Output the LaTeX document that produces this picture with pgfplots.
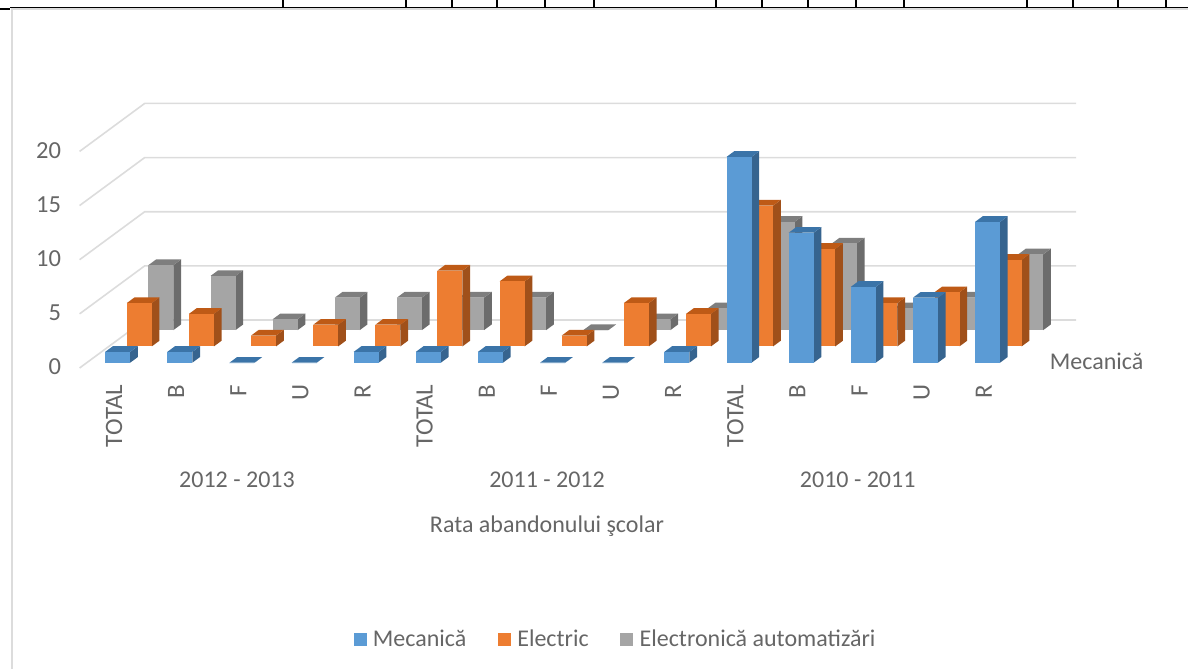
\documentclass[border=0pt]{standalone}
\usepackage{fontspec}
\setmainfont{Carlito}
\usepackage{pgfplots}
\usepackage{pgfplotstable}
\pgfplotsset{compat=1.18}
\definecolor{blueF}{HTML}{5B9BD5}\definecolor{blueS}{HTML}{36648F}\definecolor{blueT}{HTML}{3B74A8}
\definecolor{oranF}{HTML}{ED7D31}\definecolor{oranS}{HTML}{A0501A}\definecolor{oranT}{HTML}{BE5A16}
\definecolor{grayF}{HTML}{A5A5A5}\definecolor{grayS}{HTML}{6C6C6C}\definecolor{grayT}{HTML}{7E7E7E}
\definecolor{txt}{HTML}{666666}\definecolor{gridc}{HTML}{DCDCDC}
\pgfplotstableread{
i mec ele aut
0 1 4 6
1 1 3 5
2 0 1 1
3 0 2 3
4 1 2 3
5 1 7 3
6 1 6 3
7 0 1 0
8 0 4 1
9 1 3 2
10 19 13 10
11 12 9 8
12 7 4 2
13 6 5 3
14 13 8 7
}\datatbl
% one bar: #1 category index, #2 value, #3 series depth (0,1,2), #4 colour stem
\newcommand\onebar[4]{%
  \pgfmathsetmacro\xa{#1-0.2012+#3*0.3477}%
  \pgfmathsetmacro\xb{\xa+0.4024}%
  \pgfmathsetmacro\xc{\xb+0.124}%
  \pgfmathsetmacro\xd{\xa+0.124}%
  \pgfmathsetmacro\ya{0.489+#3*1.505}%
  \pgfmathsetmacro\yb{\ya+#2}%
  \pgfmathsetmacro\yc{\yb+0.526}%
  \pgfmathsetmacro\yd{\ya+0.526}%
  \edef\temp{%
    \noexpand\addplot[fill=#4S,draw=none,mark=none,forget plot] coordinates {(\xb,\ya)(\xc,\yd)(\xc,\yc)(\xb,\yb)};
    \noexpand\addplot[fill=#4T,draw=none,mark=none,forget plot] coordinates {(\xa,\yb)(\xb,\yb)(\xc,\yc)(\xd,\yc)};
    \noexpand\addplot[fill=#4F,draw=none,mark=none,forget plot] coordinates {(\xa,\ya)(\xb,\ya)(\xb,\yb)(\xa,\yb)};
  }\temp
}
\newcommand\series[3]{%
  \pgfplotsforeachungrouped \k in {0,...,14}{%
    \pgfplotstablegetelem{\k}{#1}\of\datatbl
    \edef\val{\pgfplotsretval}%
    \onebar{\k}{\val}{#2}{#3}%
  }%
}
\begin{document}
\begin{tikzpicture}[x=1pt,y=1pt]
\useasboundingbox (0,0) rectangle (1188,671);
% page furniture: frame and table rule above the chart
\draw[color=gridc,line width=2pt] (12,2) -- (12,662) -- (1188,662);
\draw[black,line width=1.6pt] (0,662) -- (10,662) (10,663.5) -- (1188,663.5);
\foreach \xx in {283,406,452,497,545,594,716,762,808,856,904,1027,1073,1118,1166}
  \draw[black,line width=1.2pt] (\xx,671) -- (\xx,663.5);
\begin{axis}[
  at={(79.6pt,303pt)},anchor=south west,
  scale only axis,width=996.4pt,height=265pt,
  xmin=-0.613,xmax=15.424,ymin=0,ymax=24.47,
  clip=false,
  axis line style={draw=none},
  major tick length=0pt,
  xtick={0,...,14},
  xticklabels={TOTAL,B,F,U,R,TOTAL,B,F,U,R,TOTAL,B,F,U,R},
  xticklabel style={rotate=90,anchor=east,font=\fontsize{25}{25}\selectfont,text=txt,xshift=-13pt,yshift=3.7pt},
  ytick={0,5,10,15,20},
  yticklabel style={font=\fontsize{24.5}{24.5}\selectfont,text=txt,xshift=-15pt,yshift=1pt},
  /pgf/number format/assume math mode=true,
  legend columns=3,
  legend style={at={(0.538,-1.0226)},anchor=center,draw=none,fill=none,
    font=\fontsize{24}{24}\selectfont,text=txt,
    /tikz/every odd column/.append style={column sep=5pt},
    /tikz/every even column/.append style={column sep=30pt}},
]
% gridlines: front end, back corner, right end
\pgfplotsforeachungrouped \v in {0,5,10,15,20}{%
  \pgfmathsetmacro\vb{\v+4.432}%
  \edef\temp{\noexpand\addplot[color=gridc,line width=1.6pt,mark=none,forget plot] coordinates {(-0.613,\v)(0.435,\vb)(15.424,\vb)};}\temp
}
\series{aut}{2}{gray}
\series{ele}{1}{oran}
\series{mec}{0}{blue}
\addlegendimage{only marks,mark=square*,mark size=6pt,blueF}
\addlegendimage{only marks,mark=square*,mark size=6pt,oranF}
\addlegendimage{only marks,mark=square*,mark size=6pt,grayF}
\legend{Mecanică,Electric,Electronică automatizări}
\node[text=txt,font=\fontsize{24}{24}\selectfont] at (axis cs:1.92,-10.3) {2012 - 2013};
\node[text=txt,font=\fontsize{24}{24}\selectfont] at (axis cs:6.91,-10.3) {2011 - 2012};
\node[text=txt,font=\fontsize{24}{24}\selectfont] at (axis cs:11.91,-10.3) {2010 - 2011};
\node[text=txt,font=\fontsize{24}{24}\selectfont] at (axis cs:6.91,-14.6) {Rata abandonului şcolar};
\node[text=txt,font=\fontsize{24}{24}\selectfont,anchor=west,inner sep=0pt] at (axis cs:15.0,0.65) {Mecanică};
\end{axis}
\end{tikzpicture}
\end{document}
